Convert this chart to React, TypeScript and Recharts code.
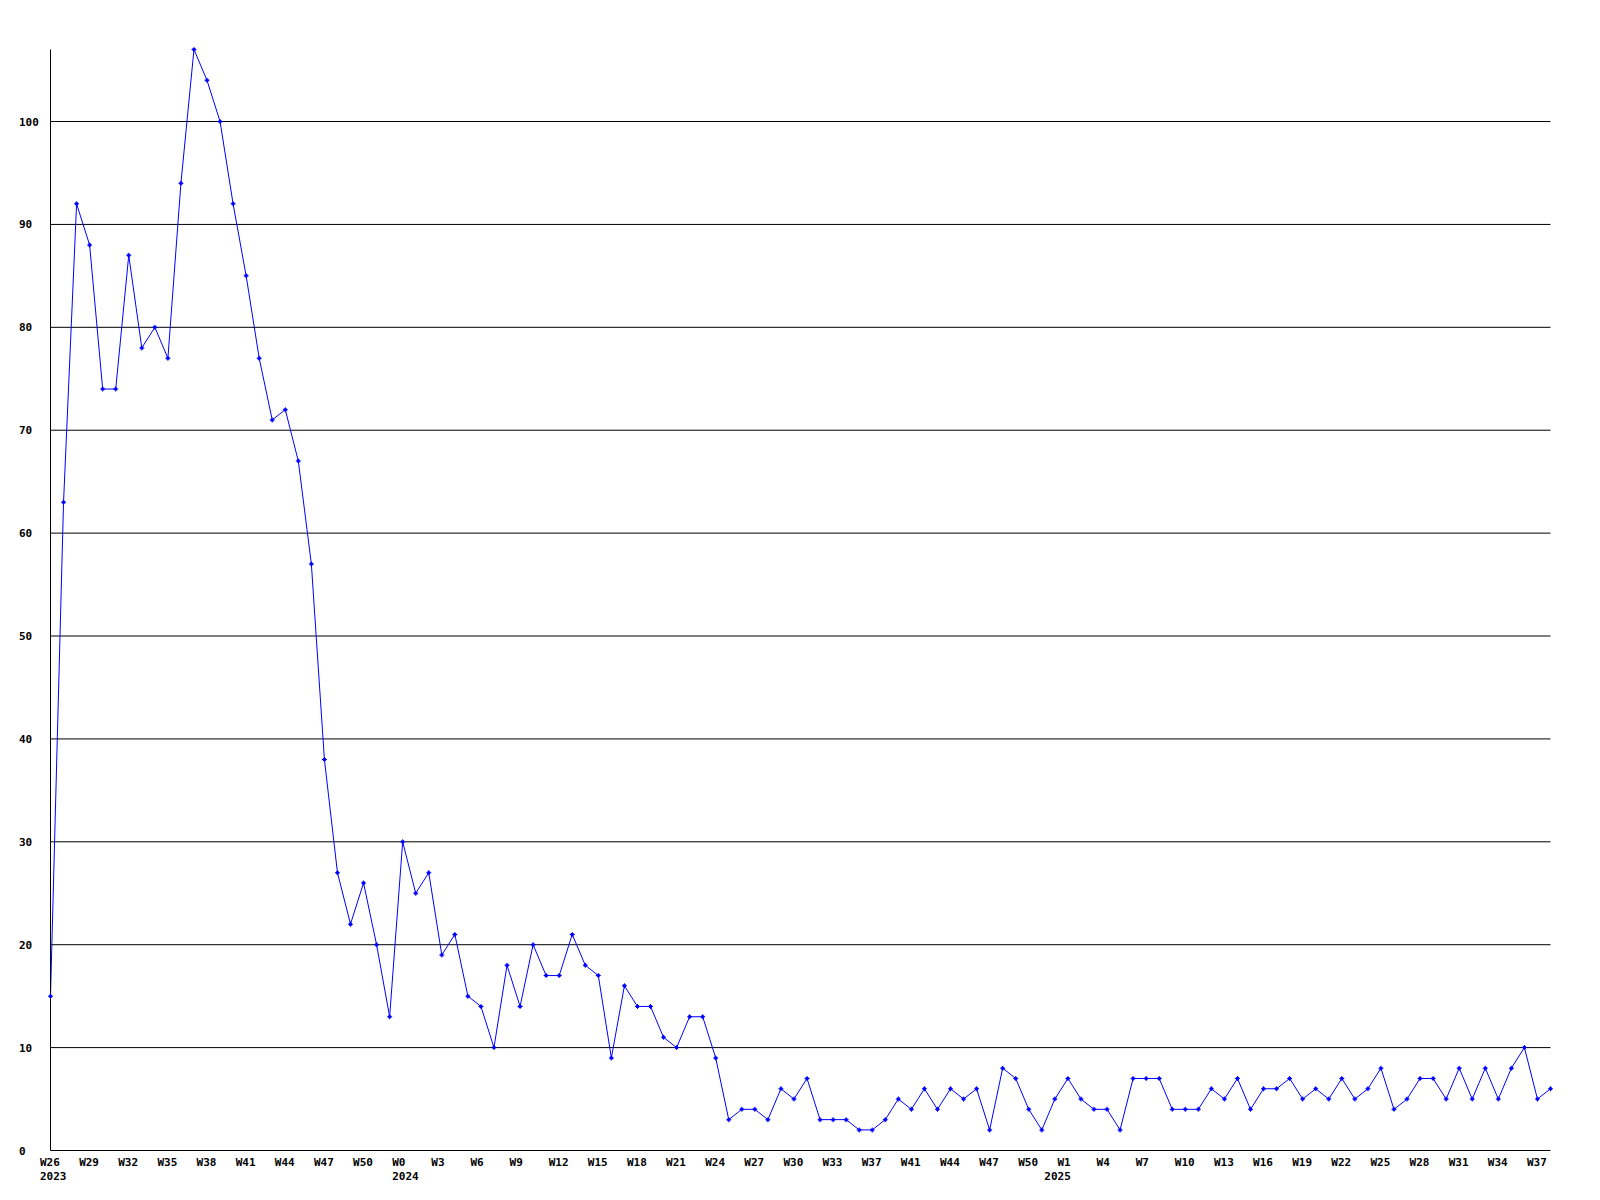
import { LineChart, Line, XAxis, YAxis, ReferenceLine } from "recharts";

// weekly counts, W26 2023 .. W38 2025
const counts = [
  15, 63, 92, 88, 74, 74, 87, 78, 80, 77, 94, 107, 104, 100, 92, 85, 77, 71, 72, 67,
  57, 38, 27, 22, 26, 20, 13, 30, 25, 27, 19, 21, 15, 14, 10, 18, 14, 20, 17, 17,
  21, 18, 17, 9, 16, 14, 14, 11, 10, 13, 13, 9, 3, 4, 4, 3, 6, 5, 7, 3,
  3, 3, 2, 2, 3, 5, 4, 6, 4, 6, 5, 6, 2, 8, 7, 4, 2, 5, 7, 5,
  4, 4, 2, 7, 7, 7, 4, 4, 4, 6, 5, 7, 4, 6, 6, 7, 5, 6, 5, 7,
  5, 6, 8, 4, 5, 7, 7, 5, 8, 5, 8, 5, 8, 10, 5, 6,
];

// one label every third week
const tickLabels = [
  "W26", "W29", "W32", "W35", "W38", "W41", "W44", "W47", "W50",
  "W0", "W3", "W6", "W9", "W12", "W15", "W18", "W21", "W24", "W27", "W30", "W33", "W37", "W41", "W44", "W47", "W50",
  "W1", "W4", "W7", "W10", "W13", "W16", "W19", "W22", "W25", "W28", "W31", "W34", "W37",
];

// year labels and the week (point) where each year begins
const years = ["2023", "2024", "2025"];
const yearStart = [0, 27, 77];

const yTicks = [0, 10, 20, 30, 40, 50, 60, 70, 80, 90, 100];

const data = counts.map((v, i) => ({ i, v }));
const weekTicks = tickLabels.map((_, k) => k * 3);
const xTicks = Array.from(new Set([...weekTicks, ...yearStart])).sort((a, b) => a - b);

const font = { fontFamily: "DejaVu Sans Mono", fontWeight: "bold" as const, fontSize: 11, fill: "#000" };

const XTick = ({ x, y, payload }: any) => {
  const idx = payload.value;
  const w = weekTicks.indexOf(idx);
  const yr = yearStart.indexOf(idx);
  return (
    <g>
      {w >= 0 ? (
        <text x={x - 10.5} y={y + 15.5} textAnchor="start" {...font}>
          {tickLabels[w]}
        </text>
      ) : null}
      {yr >= 0 ? (
        <text x={x - 10.5} y={y + 29.5} textAnchor="start" {...font}>
          {years[yr]}
        </text>
      ) : null}
    </g>
  );
};

const YTick = ({ y, payload }: any) => (
  <text x={19} y={y + 4} textAnchor="start" {...font}>
    {payload.value}
  </text>
);

const Marker = ({ cx, cy }: any) => {
  if (cx == null || cy == null) return null;
  return (
    <path
      d={`M${cx - 0.5},${cy - 2.5}h1v1h1v1h1v1h-1v1h-1v1h-1v-1h-1v-1h-1v-1h1v-1h1z`}
      fill="#0000ff"
    />
  );
};

export default function App() {
  return (
    <div style={{ position: "absolute", left: 0, top: 0, width: 1600, height: 1200, background: "#fff" }}>
      <LineChart
        width={1600}
        height={1200}
        data={data}
        margin={{ top: 49.5, right: 49.5, bottom: 0, left: 0.5 }}
      >
        <XAxis
          dataKey="i"
          type="number"
          domain={[0, counts.length - 1]}
          ticks={xTicks}
          interval={0}
          height={49.5}
          tickLine={false}
          tickSize={0}
          tickMargin={0}
          axisLine={{ stroke: "#000" }}
          tick={<XTick />}
        />
        <YAxis
          type="number"
          domain={[0, 107]}
          ticks={yTicks}
          interval={0}
          width={50}
          tickLine={false}
          tickSize={0}
          axisLine={{ stroke: "#000" }}
          tick={<YTick />}
        />
        {yTicks.slice(1).map((t) => (
          <ReferenceLine key={t} y={t} stroke="#000" strokeWidth={1} ifOverflow="extendDomain" />
        ))}
        <Line
          dataKey="v"
          type="linear"
          stroke="#0000ff"
          strokeWidth={1}
          dot={<Marker />}
          activeDot={false}
          isAnimationActive={false}
        />
      </LineChart>
    </div>
  );
}
